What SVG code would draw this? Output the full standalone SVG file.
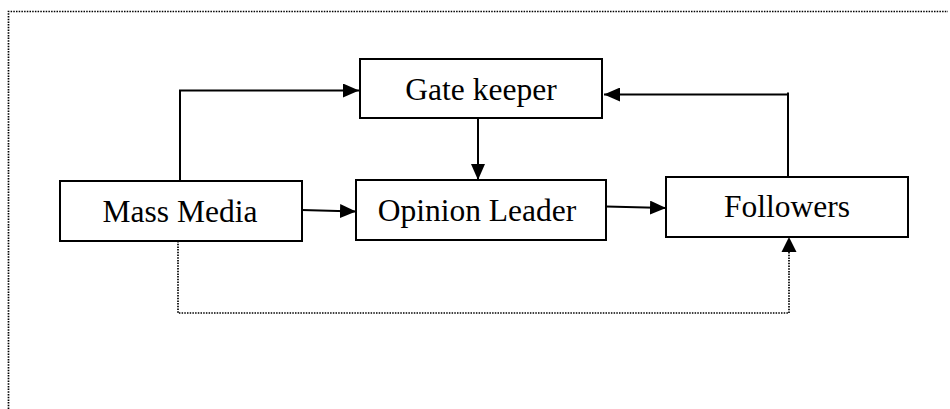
<svg xmlns="http://www.w3.org/2000/svg" width="950" height="409" viewBox="0 0 950 409">
  <style>
    .box { fill: #ffffff; stroke: #000000; stroke-width: 2; }
    .label { font-family: "Liberation Serif", "Times New Roman", serif; font-size: 31.5px; fill: #000000; text-anchor: middle; }
    .link { fill: none; stroke: #000000; stroke-width: 2; }
    .dotted { fill: none; stroke: #000000; stroke-width: 1.7; stroke-dasharray: 1.5 1.2; }
  </style>
  <defs>
    <marker id="arrow" viewBox="0 0 16 14" refX="16" refY="7" markerWidth="16" markerHeight="14" markerUnits="userSpaceOnUse" orient="auto">
      <path d="M0,0 L16,7 L0,14 Z" fill="#000000"/>
    </marker>
  </defs>
  <rect width="950" height="409" fill="#ffffff"/>

  <!-- frame -->
  <path class="dotted" d="M8.5,409 L8.5,11.5 L948,11.5"/>

  <!-- connectors -->
  <g id="connectors">
    <path class="link" d="M180,181 L180,90.5 L359,90.5" marker-end="url(#arrow)"/>
    <path class="link" d="M788,180 L788,92.5 M788,94.5 L604,94.5" marker-end="url(#arrow)"/>
    <path class="link" d="M478,118 L478,180" marker-end="url(#arrow)"/>
    <path class="link" d="M302,210 L356,211.5" marker-end="url(#arrow)"/>
    <path class="link" d="M606,206.5 L666,208" marker-end="url(#arrow)"/>
    <path class="dotted" d="M178,241 L178,313 L789,313 L789,252"/>
    <path d="M789,237 L796.5,252 L781.5,252 Z" fill="#000000"/>
  </g>

  <!-- nodes -->
  <g id="gate-keeper">
    <rect class="box" x="360" y="59" width="242" height="59"/>
    <text class="label" x="481" y="100">Gate keeper</text>
  </g>
  <g id="mass-media">
    <rect class="box" x="60" y="181" width="242" height="60"/>
    <text class="label" x="180" y="222">Mass Media</text>
  </g>
  <g id="opinion-leader">
    <rect class="box" x="356" y="180" width="250" height="60"/>
    <text class="label" x="477" y="221">Opinion Leader</text>
  </g>
  <g id="followers">
    <rect class="box" x="666" y="177" width="242" height="60"/>
    <text class="label" x="787" y="217">Followers</text>
  </g>
</svg>
